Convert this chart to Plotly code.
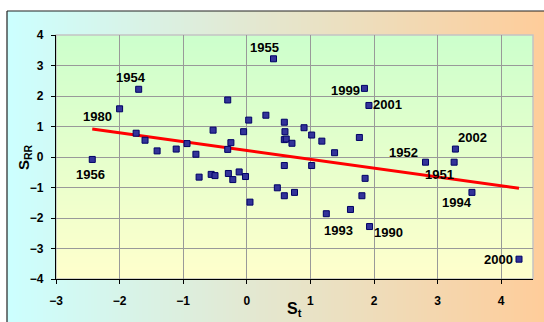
import plotly.graph_objects as go

# Standardised temperature index (S_t) and standardised precipitation index (S_RR)
st = [-2.43, -2.00, -1.70, -1.74, -1.60, -1.41, -1.11, -0.94, -0.80, -0.53,
      -0.30, -0.25, -0.30, -0.05, 0.03, 0.30, 0.42, 0.59, 0.60, 0.59,
      0.62, 0.71, 0.90, 1.02, 1.18, 1.38, 1.77, 1.85, 1.92, 3.28,
      2.81, 3.26, 3.54, 4.28, 1.93, 1.25, 1.63, 1.81, 1.86, 0.48,
      0.59, 0.75, 0.59, 1.02, -0.75, -0.56, -0.50, -0.29, -0.22, -0.12,
      -0.02, 0.05]
srr = [-0.08, 1.58, 2.22, 0.78, 0.55, 0.20, 0.26, 0.44, 0.09, 0.88,
       1.87, 0.47, 0.25, 0.83, 1.21, 1.37, 3.22, 1.14, 0.83, 0.57,
       0.59, 0.45, 0.96, 0.72, 0.52, 0.14, 0.64, 2.25, 1.69, 0.26,
       -0.17, -0.17, -1.16, -3.35, -2.28, -1.86, -1.72, -1.27, -0.70, -1.01,
       -1.27, -1.16, -0.28, -0.28, -0.66, -0.57, -0.61, -0.54, -0.74, -0.49,
       -0.64, -1.48]
years = ["1956", "1980", "1954", "", "", "", "", "", "", "",
         "", "", "", "", "", "", "1955", "", "", "",
         "", "", "", "", "", "", "", "1999", "2001", "2002",
         "1952", "1951", "1994", "2000", "1990", "1993", "", "", "", "",
         "", "", "", "", "", "", "", "", "", "",
         "", ""]

# Linear trend line S_RR = a + b * S_t
trend_intercept = 0.215
trend_slope = -0.29

x_ticks = [-3, -2, -1, 0, 1, 2, 3, 4]
y_ticks = [-4, -3, -2, -1, 0, 1, 2, 3, 4]

FONT = "Arial, 'Liberation Sans', sans-serif"
W, H = 544, 322
L, R, T, B = 56, 11, 35, 43
PW, PH = W - L - R, H - T - B


def px_x(p):
    return (p - L) / PW


def px_y(p):
    return (H - B - p) / PH


def mix(c1, c2, f):
    return "rgb(%d,%d,%d)" % tuple(round(a + (b - a) * f) for a, b in zip(c1, c2))


shapes = []

# Chart-area background: horizontal cyan -> peach gradient
x_start, x_end, step = 7, 550, 3
n = (x_end - x_start) // step
for i in range(n):
    a = x_start + i * step
    f = (i + 0.5) / n
    shapes.append(dict(type="rect", xref="paper", yref="paper", layer="below",
                       x0=px_x(a), x1=px_x(a + step + 0.6),
                       y0=px_y(330), y1=px_y(11), line_width=0,
                       fillcolor=mix((204, 255, 255), (255, 204, 153), f)))

# Plot-area background: vertical green -> yellow gradient
n2 = PH // 2
for i in range(n2):
    a = T + i * 2
    f = (i + 0.5) / n2
    shapes.append(dict(type="rect", xref="paper", yref="paper", layer="below",
                       x0=0, x1=1, y0=px_y(a + 2.6), y1=px_y(a), line_width=0,
                       fillcolor=mix((204, 255, 204), (255, 255, 204), f)))

# Plot-area frame and chart-area border
shapes.append(dict(type="rect", xref="paper", yref="paper", layer="below",
                   x0=0, x1=1, y0=0, y1=1, line=dict(color="#c4c4c4", width=1.5)))
shapes.append(dict(type="line", xref="paper", yref="paper",
                   x0=px_x(7), x1=px_x(560), y0=px_y(11), y1=px_y(11),
                   line=dict(color="#222222", width=1.2)))
shapes.append(dict(type="line", xref="paper", yref="paper",
                   x0=px_x(7), x1=px_x(7), y0=px_y(11), y1=px_y(340),
                   line=dict(color="#222222", width=1.2)))

fig = go.Figure()

tx = [min(st), max(st)]
ty = [trend_intercept + trend_slope * v for v in tx]
fig.add_trace(go.Scatter(x=tx, y=ty, mode="lines",
                         line=dict(color="#ff0000", width=3), hoverinfo="skip"))

fig.add_trace(go.Scatter(x=st, y=srr, mode="markers",
                         marker=dict(symbol="square", size=6, color="#333399",
                                     line=dict(color="#000066", width=1))))

# Year labels: pixel offsets (right, down) from their marker
label_offsets = {
    "1955": (-9, -11), "1954": (-8, -12), "1980": (-22, 8), "1956": (-2, 15),
    "1999": (-19, 2), "2001": (19, -1), "2002": (17, -12), "1952": (-22, -9.5),
    "1951": (-15, 12.5), "1994": (-15, 10), "2000": (-21, 0), "1990": (19, 6),
    "1993": (12, 17),
}

annotations = []
for x, y, yr in zip(st, srr, years):
    if not yr:
        continue
    dx, dy = label_offsets[yr]
    annotations.append(dict(x=x, y=y, text=yr, showarrow=False,
                            xanchor="center", yanchor="middle",
                            xshift=dx, yshift=-dy,
                            font=dict(family=FONT, size=13, color="black", weight="bold")))

# Axis titles
annotations.append(dict(xref="paper", yref="paper", x=px_x(294), y=px_y(309),
                        xanchor="center", yanchor="middle",
                        text="S<sub>t</sub>", showarrow=False,
                        font=dict(family=FONT, size=16, color="black", weight="bold")))
annotations.append(dict(xref="paper", yref="paper", x=px_x(24), y=px_y(157),
                        xanchor="center", yanchor="middle",
                        text="S<sub>RR</sub>", showarrow=False, textangle=-90,
                        font=dict(family=FONT, size=15, color="black", weight="bold")))

axis_common = dict(showgrid=True, gridcolor="#999999", gridwidth=1.2, zeroline=False,
                   showline=True, linecolor="black", linewidth=1.3,
                   ticks="outside", ticklen=4, tickcolor="black", tickwidth=1.3,
                   tickfont=dict(family=FONT, size=12, color="black", weight="bold"))

fig.update_layout(
    width=W, height=H,
    margin=dict(l=L, r=R, t=T, b=B),
    paper_bgcolor="white",
    plot_bgcolor="rgba(0,0,0,0)",
    showlegend=False,
    shapes=shapes,
    annotations=annotations,
    xaxis=dict(range=[-3, 4.5], tickvals=x_ticks, ticklabelstandoff=6, **axis_common),
    yaxis=dict(range=[-4, 4], tickvals=y_ticks, ticklabelstandoff=5, **axis_common),
)

fig.write_html("out.html")
